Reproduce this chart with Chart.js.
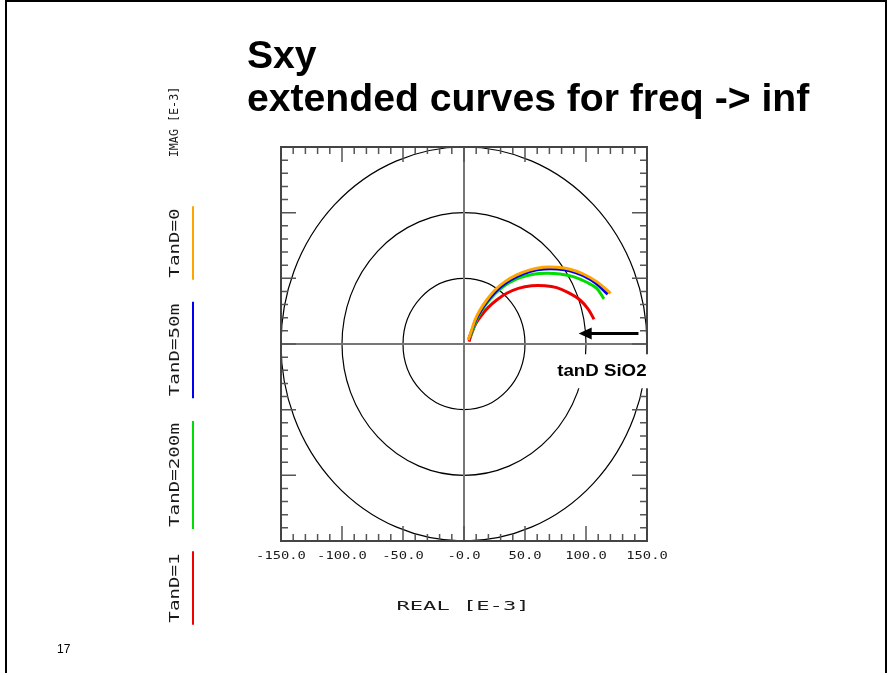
<!DOCTYPE html>
<html>
<head>
<meta charset="utf-8">
<script src="https://cdn.jsdelivr.net/npm/chart.js@4/dist/chart.umd.min.js"></script>
<style>
  html, body { margin: 0; padding: 0; background: #fff; }
  #page { position: relative; width: 889px; height: 675px; overflow: hidden; background: #fff; }
  #border { position: absolute; left: 5px; top: 0; width: 882px; height: 673px;
            border: 2px solid #000; border-bottom: none; box-sizing: border-box; }
  #chart { position: absolute; left: 0; top: 0; }
  .title { position: absolute; left: 247px; font: bold 38px "Liberation Sans", Arial, sans-serif;
           line-height: 38px; white-space: nowrap; transform: scaleX(1.03); transform-origin: left top; color: #000; }
  #pageno { position: absolute; left: 57px; top: 642px; font: 12px "Liberation Sans", Arial, sans-serif; }
</style>
</head>
<body>
<div id="page">
  <div id="border"></div>
  <canvas id="chart" width="889" height="675"></canvas>
  <div class="title" style="top:36px">Sxy</div>
  <div class="title" style="top:79px">extended curves for freq -&gt; inf</div>
  <div id="pageno">17</div>
</div>
<script>
// ── 資料 ────────────────────────────────────────────────
const SERIES_LABELS = ["TanD=0", "TanD=50m", "TanD=200m", "TanD=1"];
const SERIES_COLORS = ["#ffa500", "#0000ee", "#00dd00", "#ee0000"];

// 實部 / 虛部 [E-3]
const TAND0_RE = [3.5, 6.3, 9.0, 13.1, 18.6, 25.4, 33.6, 43.2, 54.1, 65.0, 76.0, 86.9, 97.8, 108.8, 120.2];
const TAND0_IM = [3.0, 10.7, 18.3, 25.9, 33.5, 41.1, 47.5, 52.6, 56.4, 58.4, 58.4, 56.9, 53.3, 47.5, 38.6];

const TAND50M_RE = [3.8, 6.6, 9.6, 13.7, 19.1, 26.0, 34.2, 43.7, 54.6, 65.6, 76.5, 87.4, 97.8, 108.2, 117.8];
const TAND50M_IM = [3.5, 10.7, 18.3, 25.4, 32.7, 40.1, 46.5, 51.5, 55.4, 57.1, 57.1, 55.6, 52.0, 46.2, 37.9];

const TAND200M_RE = [4.9, 7.7, 10.9, 15.8, 21.3, 28.1, 36.3, 45.9, 56.8, 67.8, 78.7, 89.6, 100.6, 108.8, 114.8];
const TAND200M_IM = [5.1, 11.9, 19.5, 27.2, 34.0, 40.6, 46.2, 50.5, 53.1, 53.8, 53.3, 51.3, 47.0, 42.4, 34.3];

const TAND1_RE = [4.1, 6.3, 9.8, 14.5, 19.9, 26.8, 35.0, 44.5, 55.5, 66.4, 76.0, 85.5, 95.1, 101.9, 106.6];
const TAND1_IM = [1.8, 8.1, 15.7, 22.1, 27.9, 33.5, 38.6, 42.4, 44.4, 44.4, 42.9, 39.1, 33.5, 26.4, 18.8];

const SERIES_RE = [TAND0_RE, TAND50M_RE, TAND200M_RE, TAND1_RE];
const SERIES_IM = [TAND0_IM, TAND50M_IM, TAND200M_IM, TAND1_IM];

// 座標軸
const AXIS_MIN = -150;
const AXIS_MAX = 150;
const RING_RADII = [50, 100, 150];
const X_TICKS = [-150, -100, -50, 0, 50, 100, 150];
const X_TICK_LABELS = ["-150.0", "-100.0", "-50.0", "-0.0", "50.0", "100.0", "150.0"];
const X_TITLE = "REAL [E-3]";
const Y_TITLE = "IMAG [E-3]";

// 註解箭頭
const NOTE_TEXT = "tanD SiO2";
const ARROW_FROM = [143, 8];
const ARROW_TO = [94, 8];
const NOTE_AT = [113, -20];

// ── 工具函式 ─────────────────────────────────────────────
const PLOT_FONT = '"DejaVu Sans Mono", monospace';

// 繪圖機風格文字：沿書寫方向拉寬
function plotterText(ctx, text, x, y, size, stretch, angle = 0) {
  ctx.save();
  ctx.translate(x, y);
  ctx.rotate(angle);
  ctx.scale(stretch, 1);
  ctx.font = `${size}px ${PLOT_FONT}`;
  ctx.fillStyle = "#1a1a1a";
  ctx.textAlign = "center";
  ctx.textBaseline = "middle";
  ctx.fillText(text, 0, 0);
  const w = ctx.measureText(text).width * stretch;
  ctx.restore();
  return w;
}

// ── 框線 / 圓 / 刻度 ─────────────────────────────────────
const plotterPlugin = {
  id: "plotter",
  beforeDatasetsDraw(chart) {
    const { ctx, chartArea: a, scales: { x, y } } = chart;
    const cx = x.getPixelForValue(0);
    const cy = y.getPixelForValue(0);
    ctx.save();

    // 同心圓
    ctx.strokeStyle = "#000";
    ctx.lineWidth = 1.2;
    RING_RADII.forEach(r => {
      const rx = x.getPixelForValue(r) - cx;
      const ry = cy - y.getPixelForValue(r);
      ctx.beginPath();
      ctx.ellipse(cx, cy, rx, ry, 0, 0, Math.PI * 2);
      ctx.stroke();
    });

    // 軸線
    ctx.strokeStyle = "#777";
    ctx.lineWidth = 2;
    ctx.beginPath();
    ctx.moveTo(a.left, cy); ctx.lineTo(a.right, cy);
    ctx.moveTo(cx, a.top); ctx.lineTo(cx, a.bottom);
    ctx.stroke();

    // 刻度（四邊朝內）
    ctx.strokeStyle = "#555";
    ctx.lineWidth = 1.5;
    ctx.beginPath();
    for (let v = AXIS_MIN + 10; v < AXIS_MAX; v += 10) {
      const len = v % 50 === 0 ? 15 : 7;
      const px = x.getPixelForValue(v);
      const py = y.getPixelForValue(v);
      ctx.moveTo(px, a.top); ctx.lineTo(px, a.top + len);
      ctx.moveTo(px, a.bottom); ctx.lineTo(px, a.bottom - len);
      ctx.moveTo(a.left, py); ctx.lineTo(a.left + len, py);
      ctx.moveTo(a.right, py); ctx.lineTo(a.right - len, py);
    }
    ctx.stroke();

    // 外框
    ctx.strokeStyle = "#444";
    ctx.lineWidth = 2;
    ctx.strokeRect(a.left, a.top, a.right - a.left, a.bottom - a.top);
    ctx.restore();
  },

  afterDatasetsDraw(chart) {
    const { ctx, scales: { x, y } } = chart;
    ctx.save();

    // 註解文字（白底蓋住圓與框）
    const nx = x.getPixelForValue(NOTE_AT[0]);
    const ny = y.getPixelForValue(NOTE_AT[1]);
    ctx.font = 'bold 17px "Liberation Sans", Arial, sans-serif';
    const tw = ctx.measureText(NOTE_TEXT).width * 1.1;
    ctx.fillStyle = "#fff";
    ctx.fillRect(nx - tw / 2 - 2, ny - 16, tw + 4, 34);
    ctx.translate(nx, ny + 1);
    ctx.scale(1.1, 1);
    ctx.fillStyle = "#000";
    ctx.textAlign = "center";
    ctx.textBaseline = "middle";
    ctx.fillText(NOTE_TEXT, 0, 0);
    ctx.restore();

    // 箭頭
    const x0 = x.getPixelForValue(ARROW_FROM[0]);
    const y0 = y.getPixelForValue(ARROW_FROM[1]);
    const x1 = x.getPixelForValue(ARROW_TO[0]);
    const y1 = y.getPixelForValue(ARROW_TO[1]);
    ctx.save();
    ctx.strokeStyle = "#000";
    ctx.fillStyle = "#000";
    ctx.lineWidth = 3;
    ctx.beginPath();
    ctx.moveTo(x0, y0); ctx.lineTo(x1 + 10, y1);
    ctx.stroke();
    ctx.beginPath();
    ctx.moveTo(x1, y1);
    ctx.lineTo(x1 + 13, y1 - 6);
    ctx.lineTo(x1 + 13, y1 + 6);
    ctx.closePath();
    ctx.fill();
    ctx.restore();
  },

  afterDraw(chart) {
    const { ctx, chartArea: a, scales: { x } } = chart;

    // X 刻度標籤
    X_TICKS.forEach((v, i) => {
      plotterText(ctx, X_TICK_LABELS[i], x.getPixelForValue(v), a.bottom + 15, 10, 1.38);
    });
    plotterText(ctx, X_TITLE, (a.left + a.right) / 2 - 1, a.bottom + 66, 13, 1.7);

    // 左側直書圖例
    const lx = 175;
    plotterText(ctx, Y_TITLE, lx, 122, 13, 0.9, -Math.PI / 2);
    const centers = [243, 350, 475, 588];
    SERIES_LABELS.forEach((lbl, i) => {
      const w = plotterText(ctx, lbl, lx, centers[i], 14, 1.37, -Math.PI / 2);
      ctx.save();
      ctx.strokeStyle = SERIES_COLORS[i];
      ctx.lineWidth = 2;
      ctx.beginPath();
      ctx.moveTo(193, centers[i] - w / 2 - 2);
      ctx.lineTo(193, centers[i] + w / 2 + 2);
      ctx.stroke();
      ctx.restore();
    });
  },
};

// ── 建立圖表 ─────────────────────────────────────────────
const datasets = SERIES_LABELS.map((lbl, i) => ({
  label: lbl,
  data: SERIES_RE[i].map((re, k) => ({ x: re, y: SERIES_IM[i][k] })),
  borderColor: SERIES_COLORS[i],
  backgroundColor: SERIES_COLORS[i],
  showLine: true,
  pointRadius: 0,
  borderWidth: 3,
  tension: 0.35,
}));

new Chart(document.getElementById("chart"), {
  type: "scatter",
  data: { datasets },
  options: {
    responsive: false,
    devicePixelRatio: 1,
    animation: false,
    layout: { padding: { left: 281, top: 147, right: 242, bottom: 134 } },
    scales: {
      x: { type: "linear", min: AXIS_MIN, max: AXIS_MAX, display: false },
      y: { type: "linear", min: AXIS_MIN, max: AXIS_MAX, display: false },
    },
    plugins: {
      legend: { display: false },
      tooltip: { enabled: false },
    },
  },
  plugins: [plotterPlugin],
});
</script>
</body>
</html>
